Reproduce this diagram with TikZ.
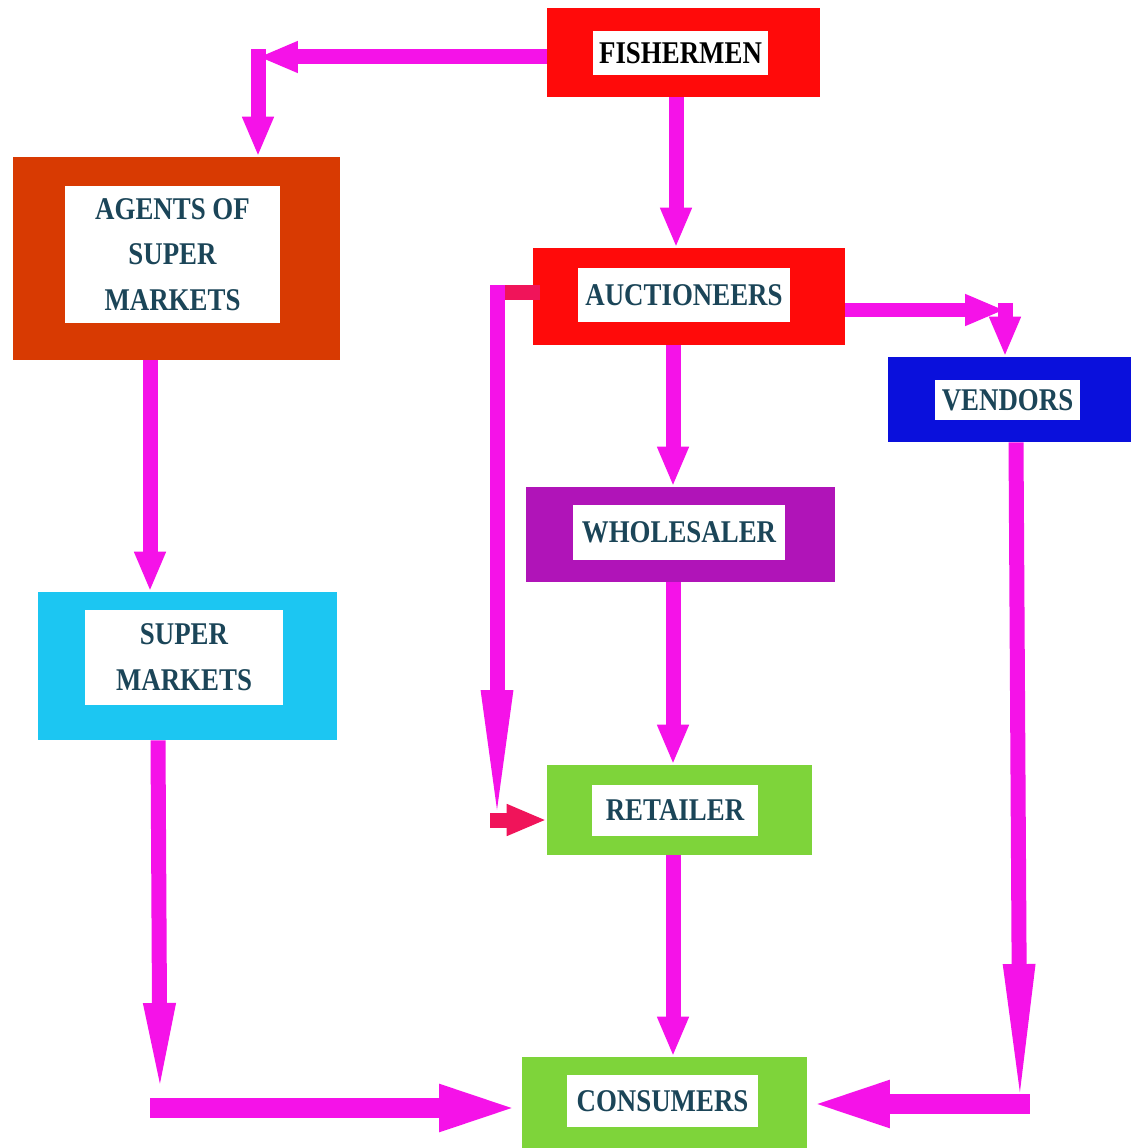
\documentclass[tikz,border=0pt]{standalone}
\usepackage{fontspec}
\setmainfont{Liberation Serif}[FakeStretch=0.85]
\usetikzlibrary{arrows.meta}
\definecolor{fishred}{HTML}{FF0A0A}
\definecolor{agentred}{HTML}{D83A02}
\definecolor{vendblue}{HTML}{0A10DC}
\definecolor{wholepurp}{HTML}{B014B8}
\definecolor{supcyan}{HTML}{1CC6F2}
\definecolor{retgreen}{HTML}{7ED43A}
\definecolor{flowmag}{HTML}{F512E8}
\definecolor{flowcrim}{HTML}{F0145A}
\definecolor{labtxt}{HTML}{1B4558}
\tikzset{
  outerbox/.style args={#1/#2/#3}{rectangle, fill=#1, draw=none, inner sep=0pt,
    minimum width=#2*0.02cm, minimum height=#3*0.02cm},
  innerbox/.style args={#1/#2}{rectangle, fill=white, draw=none, inner sep=0pt,
    minimum width=#1*0.02cm, minimum height=#2*0.02cm, align=center,
    text=labtxt, font=\fontsize{18}{26}\selectfont\bfseries},
  shaft/.style={draw=flowmag, line width=0.3cm},
  flow/.style={shaft, -{Triangle[length=0.8cm,width=0.58cm]}},
  taper/.style args={#1}{shaft, -{Triangle[length=#1,width=0.56cm]}},
  bigflow/.style={draw=flowmag, line width=0.4cm, -{Triangle[length=1.65cm,width=0.82cm]}},
}
\begin{document}
\begin{tikzpicture}[x=0.02cm,y=-0.02cm]
\useasboundingbox (0,0) rectangle (1131,1148);
% boxes
\node[outerbox=fishred/273/89] (fish) at (683.5,52.5) {};
\node[innerbox=175/44, text=black] (fishT) at (680.5,53) {FISHERMEN};
\node[outerbox=agentred/327/203] (agent) at (176.5,258.5) {};
\node[innerbox=215/137] (agentT) at (172.5,254.5) {AGENTS OF\\SUPER\\MARKETS};
\node[outerbox=fishred/312/97] (auct) at (689,296.5) {};
\node[innerbox=212/54] (auctT) at (684,295) {AUCTIONEERS};
\node[outerbox=vendblue/243/85] (vend) at (1009.5,399.5) {};
\node[innerbox=145/40] (vendT) at (1007.5,400) {VENDORS};
\node[outerbox=wholepurp/309/95] (whole) at (680.5,534.5) {};
\node[innerbox=212/55] (wholeT) at (679,532.5) {WHOLESALER};
\node[outerbox=supcyan/299/148] (super) at (187.5,666) {};
\node[innerbox=198/95] (superT) at (184,657.5) {SUPER\\MARKETS};
\node[outerbox=retgreen/265/90] (ret) at (679.5,810) {};
\node[innerbox=166/51] (retT) at (675,810.5) {RETAILER};
\node[outerbox=retgreen/285/91] (cons) at (664.5,1102.5) {};
\node[innerbox=191/52] (consT) at (662.5,1101) {CONSUMERS};
% corner coordinates
\coordinate (c1) at (258,57);
\coordinate (c2) at (1005,310);
\coordinate (c3) at (497,293);
\coordinate (c4) at (497,820);
\coordinate (c4t) at (497,830);
\coordinate (c5) at (160,1098);
\coordinate (c5h) at (160,1108);
\coordinate (c6) at (1020,1104);
\coordinate (c6t) at (1020,1114);
% fishermen -> agents
\draw[flow] (fish.west |- c1) -- (c1);
\draw[flow, line cap=rect] (c1) -- (c1 |- agent.north);
% fishermen -> auctioneers
\draw[flow] (fish.south -| 676,0) -- (auct.north -| 676,0);
% auctioneers -> vendors
\draw[flow] (auct.east |- c2) -- (c2);
\draw[flow, line cap=rect] (c2) -- (c2 |- vend.north);
% auctioneers -> retailer (left loop)
\draw[draw=flowcrim, line width=0.3cm, line cap=rect] (auct.west |- c3) -- (c3);
\draw[taper=2.8cm, line cap=rect] (c3) -- (c4t);
\draw[draw=flowcrim, line width=0.3cm, line cap=rect, -{Triangle[length=0.8cm,width=0.58cm]}] (c4) -- (ret.west |- c4);
% auctioneers -> wholesaler -> retailer -> consumers
\draw[flow] (auct.south -| 673,0) -- (whole.north -| 673,0);
\draw[flow] (whole.south -| 673,0) -- (ret.north -| 673,0);
\draw[flow] (ret.south -| 673,0) -- (cons.north -| 673,0);
% agents -> super markets
\draw[flow] (agent.south -| 150,0) -- (super.north -| 150,0);
% super markets -> consumers
\draw[taper=1.9cm] (super.south -| 158,0) -- (c5);
\draw[bigflow, line cap=rect] (c5h) -- (cons.west |- c5h);
% vendors -> consumers
\draw[bigflow, line cap=rect] (c6) -- (cons.east |- c6);
\draw[taper=3.0cm] (vend.south -| 1016,0) -- (c6t);
\end{tikzpicture}
\end{document}
